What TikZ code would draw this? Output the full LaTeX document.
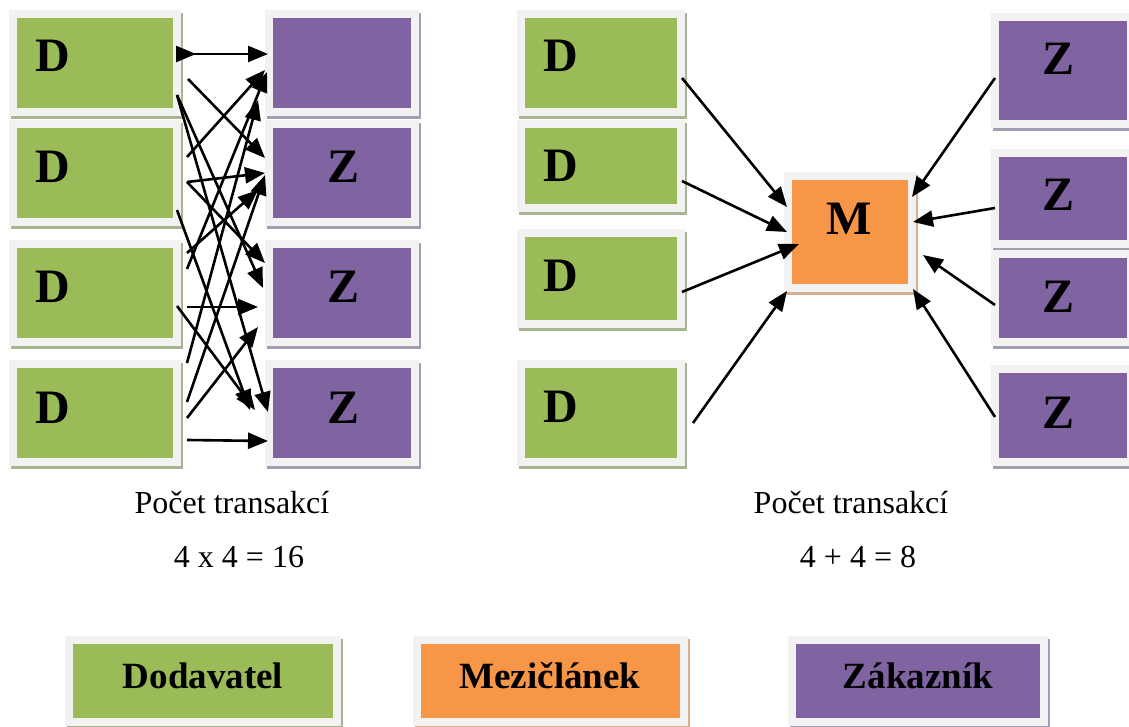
\documentclass[tikz,border=0pt]{standalone}
\usepackage{fontspec}
\setmainfont{Liberation Serif}
\usetikzlibrary{arrows.meta,fit}
\definecolor{gfill}{HTML}{9BBB59}
\definecolor{pfill}{HTML}{8064A2}
\definecolor{ofill}{HTML}{F79646}
\definecolor{frm}{HTML}{F2F2F2}
\definecolor{gsh}{HTML}{A8B593}
\definecolor{psh}{HTML}{A59DB3}
\definecolor{osh}{HTML}{D9AE8C}
\newcommand{\cbox}[7]{%
  \fill[#7] ({#2-8+2},{#3-8+3}) rectangle ({#4+8+2},{#5+8+3});
  \fill[frm] ({#2-8},{#3-8}) rectangle ({#4+8},{#5+8});
  \node[fit={(#2,#3) (#4,#5)}, inner sep=0pt, outer sep=0pt, fill=#6] (#1) {};
}
\tikzset{
  arr/.style={line width=2.6pt, -{Triangle[length=20pt,width=16pt]}},
  letter/.style={font=\fontsize{48}{50}\selectfont\bfseries, anchor=base, inner sep=0pt},
  captxt/.style={font=\fontsize{32}{34}\selectfont, anchor=base, inner sep=0pt},
  legtxt/.style={font=\fontsize{37}{40}\selectfont\bfseries, anchor=base, inner sep=0pt}
}
\begin{document}
\begin{tikzpicture}[x=1pt,y=-1pt]
\useasboundingbox[fill=white] (0,0) rectangle (1129,727);
% left side
\cbox{dl1}{17}{18}{173}{108}{gfill}{gsh}
\cbox{dl2}{17}{128}{173}{218}{gfill}{gsh}
\cbox{dl3}{17}{248}{173}{338}{gfill}{gsh}
\cbox{dl4}{17}{368}{173}{458}{gfill}{gsh}
\cbox{zl1}{273}{18}{411}{108}{pfill}{psh}
\cbox{zl2}{273}{128}{411}{218}{pfill}{psh}
\cbox{zl3}{273}{248}{411}{338}{pfill}{psh}
\cbox{zl4}{273}{368}{411}{458}{pfill}{psh}
\node[letter] (tdl1) at (53,72) {D};
\node[letter] (tdl2) at (53,183) {D};
\node[letter] (tdl3) at (53,302) {D};
\node[letter] (tdl4) at (53,423) {D};
\node[letter] (tzl2) at (344,183) {Z};
\node[letter] (tzl3) at (344,302) {Z};
\node[letter] (tzl4) at (344,423) {Z};
% left arrows
\draw[arr] ([shift={(4,36)}]dl1.north east) -- ([shift={(23,36)}]dl1.north east);
\draw[arr] ([shift={(4,36)}]dl1.north east) -- ([shift={(-5,36)}]zl1.north west);
\draw[arr] ([shift={(15,61)}]dl1.north east) -- ([shift={(-8,30)}]zl2.north west);
\draw[arr] ([shift={(4,77)}]dl1.north east) -- ([shift={(-10,40)}]zl3.north west);
\draw[arr] ([shift={(4,77)}]dl1.north east) -- ([shift={(-5,44)}]zl4.north west);
\draw[arr] ([shift={(14,29)}]dl2.north east) -- ([shift={(-8,52)}]zl1.north west);
\draw[arr] ([shift={(14,54)}]dl2.north east) -- ([shift={(-8,45)}]zl2.north west);
\draw[arr] ([shift={(14,54)}]dl2.north east) -- ([shift={(-8,15)}]zl3.north west);
\draw[arr] ([shift={(4,82)}]dl2.north east) -- ([shift={(-23,42)}]zl4.north west);
\draw[arr] ([shift={(14,21)}]dl3.north east) -- ([shift={(-6,54)}]zl1.north west);
\draw[arr] ([shift={(14,5)}]dl3.north east) -- ([shift={(-15,62)}]zl2.north west);
\draw[arr] ([shift={(14,59)}]dl3.north east) -- ([shift={(-15,59)}]zl3.north west);
\draw[arr] ([shift={(4,58)}]dl3.north east) -- ([shift={(-18,42)}]zl4.north west);
\draw[arr] ([shift={(14,-5)}]dl4.north east) -- ([shift={(-15,82)}]zl1.north west);
\draw[arr] ([shift={(14,34)}]dl4.north east) -- ([shift={(-8,47)}]zl2.north west);
\draw[arr] ([shift={(14,50)}]dl4.north east) -- ([shift={(-15,79)}]zl3.north west);
\draw[arr] ([shift={(14,72)}]dl4.north east) -- ([shift={(-5,73)}]zl4.north west);
% right side
\cbox{dr1}{525}{18}{677}{108}{gfill}{gsh}
\cbox{dr2}{525}{128}{677}{204}{gfill}{gsh}
\cbox{dr3}{525}{237}{677}{320}{gfill}{gsh}
\cbox{dr4}{525}{368}{677}{458}{gfill}{gsh}
\cbox{m}{792}{180}{908}{284}{ofill}{osh}
\cbox{zr1}{999}{21}{1127}{120}{pfill}{psh}
\cbox{zr2}{999}{157}{1127}{240}{pfill}{psh}
\cbox{zr3}{999}{258}{1127}{338}{pfill}{psh}
\cbox{zr4}{999}{373}{1127}{458}{pfill}{psh}
\node[letter] (tdr1) at (561,72) {D};
\node[letter] (tdr2) at (561,182) {D};
\node[letter] (tdr3) at (561,291) {D};
\node[letter] (tdr4) at (561,422) {D};
\node[letter] (tm) at (849,235) {M};
\node[letter] (tzr1) at (1058,75) {Z};
\node[letter] (tzr2) at (1058,211) {Z};
\node[letter] (tzr3) at (1058,312) {Z};
\node[letter] (tzr4) at (1058,428) {Z};
% right arrows
\draw[arr] ([shift={(5,60)}]dr1.north east) -- ([shift={(-5,27)}]m.north west);
\draw[arr] ([shift={(5,53)}]dr2.north east) -- ([shift={(-5,52)}]m.north west);
\draw[arr] ([shift={(5,55)}]dr3.north east) -- ([shift={(7,64)}]m.north west);
\draw[arr] ([shift={(16,55)}]dr4.north east) -- ([shift={(-5,111)}]m.north west);
\draw[arr] ([shift={(-4,57)}]zr1.north west) -- ([shift={(4,17)}]m.north east);
\draw[arr] ([shift={(-4,51)}]zr2.north west) -- ([shift={(5,42)}]m.north east);
\draw[arr] ([shift={(-4,47)}]zr3.north west) -- ([shift={(15,75)}]m.north east);
\draw[arr] ([shift={(-4,44)}]zr4.north west) -- ([shift={(5,109)}]m.north east);
% captions
\node[captxt] (c1) at (232,513) {Počet transakcí};
\node[captxt] (c2) at (239,567) {4 x 4 = 16};
\node[captxt] (c3) at (851,513) {Počet transakcí};
\node[captxt] (c4) at (858,567) {4 + 4 = 8};
% legend
\cbox{lg}{73}{644}{333}{718}{gfill}{gsh}
\cbox{lo}{421}{644}{680}{718}{ofill}{osh}
\cbox{lp}{796}{644}{1040}{718}{pfill}{psh}
\node[legtxt] (tlg) at (203,688) {Dodavatel};
\node[legtxt] (tlo) at (550,688) {Mezičlánek};
\node[legtxt] (tlp) at (918,688) {Zákazník};
\end{tikzpicture}
\end{document}
